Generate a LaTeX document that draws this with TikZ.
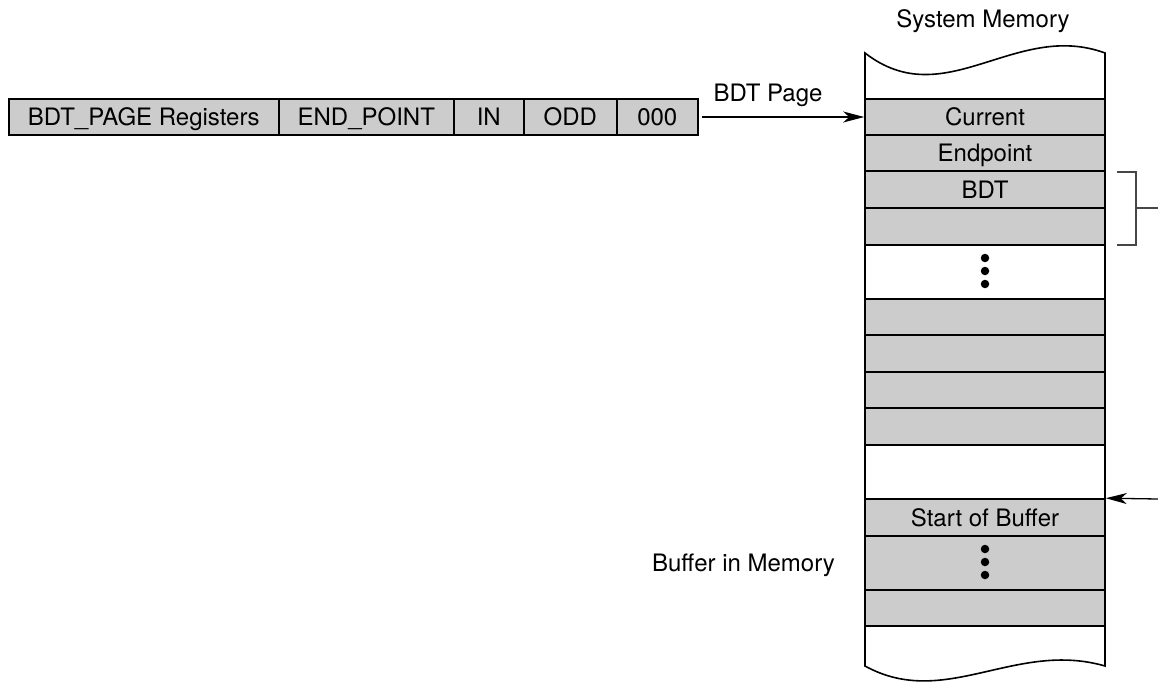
\documentclass[tikz,border=0pt]{standalone}
\usepackage{fontspec}
\setmainfont{TeX Gyre Heros}
\usetikzlibrary{arrows.meta}
\definecolor{cellgray}{RGB}{204,204,204}
\definecolor{brk}{RGB}{70,70,70}
\begin{document}
\begin{tikzpicture}[x=1pt,y=-1pt,
  every node/.style={font=\fontsize{24}{28}\selectfont, inner sep=0pt},
  capt/.style={text height=17.2pt, text depth=0pt},
  reg/.style={draw, fill=cellgray, line width=1.6pt, minimum height=36pt, anchor=west, capt},
  band/.style={draw, fill=cellgray, line width=1.6pt, minimum width=240pt, capt},
  dot/.style={circle, fill=black, minimum size=8.5pt},
  ptr/.style={line width=1.3pt, -{Stealth[length=21pt,width=11pt,inset=6pt]}},
  brace/.style={draw=brk, line width=1.6pt}]
\useasboundingbox (0,0) rectangle (1158,685);
% column outline
\draw[line width=1.6pt, fill=white] (865,53) -- (865,666)
  .. controls (945,710) and (1015,640) .. (1105,666) -- (1105,53)
  .. controls (1015,20) and (945,115) .. (865,53) -- cycle;
% register bar
\node[reg, minimum width=270pt] (r1) at (8,117) {BDT\_PAGE Registers};
\node[reg, minimum width=175pt] (r2) at (278,117) {END\_POINT};
\node[reg, minimum width=70pt] (r3) at (453,117) {IN};
\node[reg, minimum width=93pt] (r4) at (523,117) {ODD};
\node[reg, minimum width=81pt] (r5) at (616,117) {000};
% memory bands
\node[band, minimum height=36pt] (cur) at (985,117) {Current};
\node[band, minimum height=36pt] (endp) at (985,153) {Endpoint};
\node[band, minimum height=37pt] (bdt) at (985,189.5) {BDT};
\node[band, minimum height=37pt] (blank) at (985,226.5) {};
\node[band, minimum height=36pt] (g1) at (985,317) {};
\node[band, minimum height=37pt] (g2) at (985,353.5) {};
\node[band, minimum height=36pt] (g3) at (985,390) {};
\node[band, minimum height=37pt] (g4) at (985,426.5) {};
\node[band, minimum height=37pt] (sob) at (985,517.5) {Start of Buffer};
\node[band, minimum height=54pt] (bdots) at (985,563) {};
\node[band, minimum height=36pt] (g5) at (985,608) {};
% dots
\node[dot] (d1) at (985,258) {};
\node[dot] (d2) at (985,271) {};
\node[dot] (d3) at (985,284) {};
\node[dot] (e1) at (985,549) {};
\node[dot] (e2) at (985,562) {};
\node[dot] (e3) at (985,575) {};
% labels
\node[capt] (sysmem) at (983,19) {System Memory};
\node[capt] (bufmem) at (743.5,563) {Buffer in Memory};
\node[anchor=base] (bdtpage) at (768,101) {BDT Page};
% pointer arrows
\draw[ptr, shorten <=3pt] (r5.east) -- (cur.west);
\coordinate (bufsrc) at (1158,499);
\draw[ptr] (bufsrc) -- (sob.north east);
% bracket
\coordinate (brkend) at (1158,208);
\draw[brace] (1117,172) -- (1136,172) -- (1136,245) -- (1117,245);
\draw[brace] (1136,208) -- (brkend);
\end{tikzpicture}
\end{document}
